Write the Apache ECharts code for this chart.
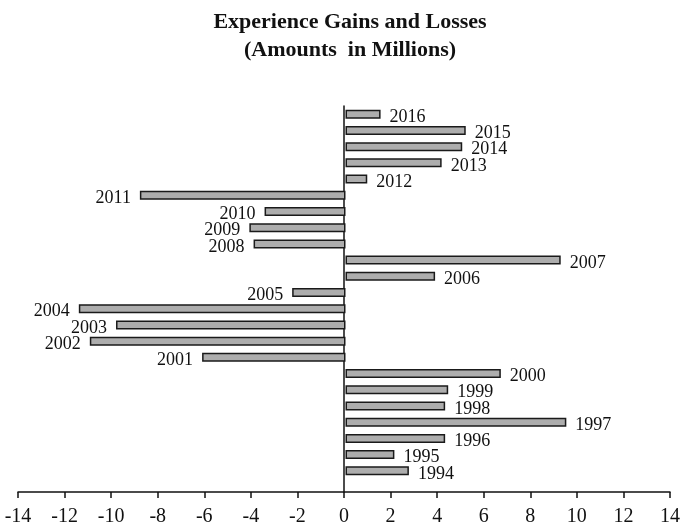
<!DOCTYPE html>
<html>
<head>
<meta charset="utf-8">
<script src="https://cdn.jsdelivr.net/npm/echarts@6/dist/echarts.min.js"></script>
<style>
html,body{margin:0;padding:0;background:#fff;}
#c{width:683px;height:527px;}
</style>
</head>
<body>
<div id="c"></div>
<script>
const years = ['1994','1995','1996','1997','1998','1999','2000','2001','2002','2003','2004','2005','2006','2007','2008','2009','2010','2011','2012','2013','2014','2015','2016'];
const values = [2.71, 2.09, 4.26, 9.44, 4.26, 4.39, 6.64, -6.13, -10.93, -9.81, -11.4, -2.28, 3.83, 9.2, -3.93, -4.11, -3.46, -8.79, 0.93, 4.11, 4.99, 5.14, 1.5];
const xTicks = [-14,-12,-10,-8,-6,-4,-2,0,2,4,6,8,10,12,14];

const chart = echarts.init(document.getElementById('c'));
const serif = '"Liberation Serif", "DejaVu Serif", serif';
const xMin = xTicks[0], xMax = xTicks[xTicks.length-1];
chart.setOption({
  animation: false,
  backgroundColor: '#ffffff',
  title: {
    text: 'Experience Gains and Losses\n(Amounts  in Millions)',
    left: 345, textAlign: 'center', top: 3,
    textStyle: { fontFamily: serif, fontWeight: 'bold', fontSize: 22, lineHeight: 28, color: '#111' }
  },
  grid: [
    { left: 18, right: 10, top: 98, bottom: 40 },
    { left: 18, right: 10, top: 106, bottom: 33 }
  ],
  xAxis: [
    { gridIndex: 0, type: 'value', min: xMin, max: xMax, interval: 2, show: false },
    {
      gridIndex: 1, type: 'value', min: xMin, max: xMax, interval: 2,
      splitLine: { show: false },
      axisLine: { show: true, onZero: false, lineStyle: { color: '#111', width: 1.5 } },
      axisTick: { show: true, length: 6, lineStyle: { color: '#111', width: 1.5 } },
      axisLabel: { color: '#111', fontFamily: serif, fontSize: 20, margin: 15 }
    }
  ],
  yAxis: [
    {
      gridIndex: 0, type: 'category', data: years, boundaryGap: false, min: -1, max: years.length,
      axisLine: { show: false }, axisTick: { show: false }, axisLabel: { show: false }, splitLine: { show: false }
    },
    {
      gridIndex: 1, type: 'value', min: 0, max: 1,
      axisLine: { show: true, onZero: true, lineStyle: { color: '#111', width: 1.5 } },
      axisTick: { show: false }, axisLabel: { show: false }, splitLine: { show: false }
    }
  ],
  series: [{
    type: 'bar',
    xAxisIndex: 0, yAxisIndex: 0,
    barWidth: 9,
    itemStyle: { color: '#adadad', borderColor: '#1a1a1a', borderWidth: 1.5 },
    label: { show: true, formatter: '{b}', fontFamily: serif, fontSize: 18, color: '#111', distance: 9, offset: [0, 3] },
    data: values.map(v => ({ value: v, label: { position: v < 0 ? 'left' : 'right' } }))
  }]
});
</script>
</body>
</html>
